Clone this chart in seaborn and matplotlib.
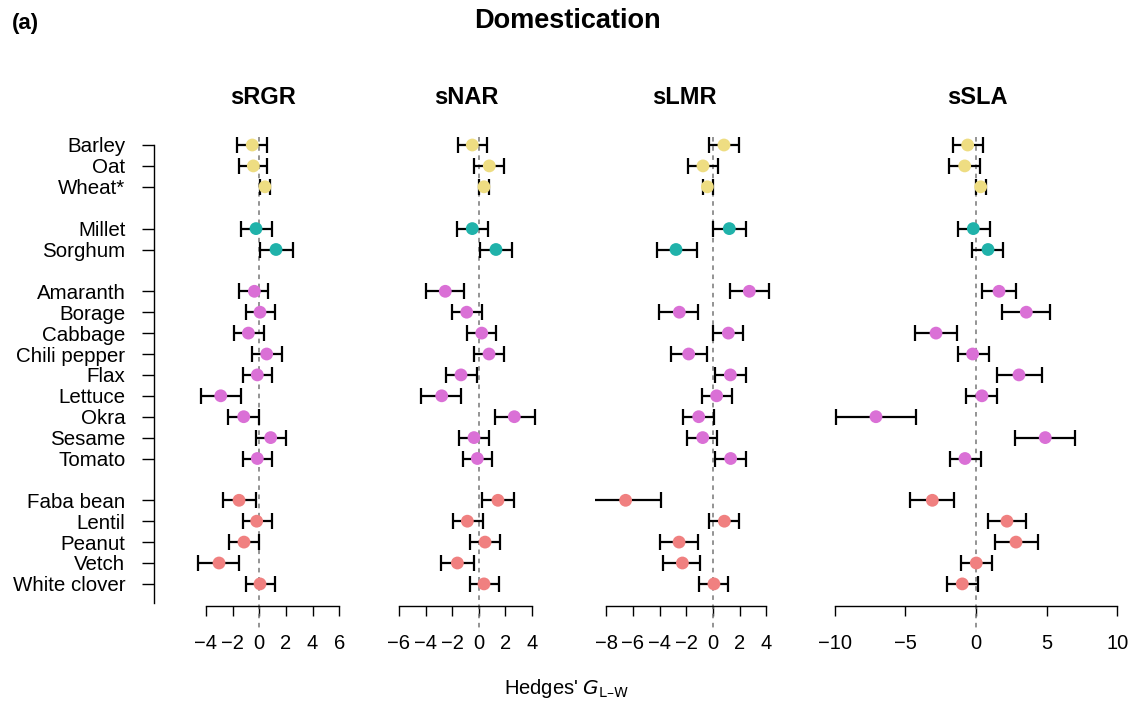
import numpy as np
import pandas as pd
import matplotlib
matplotlib.use('Agg')
import matplotlib.pyplot as plt
import seaborn as sns

# data
crops = ['Barley', 'Oat', 'Wheat*', 'Millet', 'Sorghum',
         'Amaranth', 'Borage', 'Cabbage', 'Chili pepper', 'Flax', 'Lettuce', 'Okra', 'Sesame', 'Tomato',
         'Faba bean', 'Lentil', 'Peanut', 'Vetch', 'White clover']
groups = ['C3 cereal', 'C3 cereal', 'C3 cereal', 'C4 cereal', 'C4 cereal',
          'Forb', 'Forb', 'Forb', 'Forb', 'Forb', 'Forb', 'Forb', 'Forb', 'Forb',
          'Legume', 'Legume', 'Legume', 'Legume', 'Legume']

traits = ['sRGR', 'sNAR', 'sLMR', 'sSLA']

srgr_est = [-0.52, -0.44, 0.43, -0.24, 1.26, -0.36, 0.06, -0.81, 0.56, -0.14, -2.88, -1.16, 0.86, -0.14, -1.51, -0.19, -1.14, -3.01, 0.06]
srgr_lo = [-1.64, -1.54, 0.08, -1.39, 0.06, -1.49, -1.01, -1.91, -0.52, -1.19, -4.38, -2.34, -0.24, -1.19, -2.69, -1.24, -2.26, -4.56, -1.01]
srgr_hi = [0.61, 0.61, 0.81, 0.93, 2.50, 0.68, 1.16, 0.33, 1.71, 0.98, -1.39, -0.04, 1.98, 0.98, -0.24, 0.93, -0.01, -1.49, 1.16]

snar_est = [-0.49, 0.79, 0.39, -0.49, 1.29, -2.52, -0.91, 0.22, 0.77, -1.34, -2.79, 2.67, -0.36, -0.11, 1.44, -0.86, 0.47, -1.61, 0.39]
snar_lo = [-1.56, -0.34, 0.02, -1.64, 0.11, -3.97, -2.02, -0.91, -0.34, -2.47, -4.32, 1.24, -1.49, -1.19, 0.26, -1.94, -0.64, -2.82, -0.66]
snar_hi = [0.64, 1.89, 0.79, 0.71, 2.52, -1.11, 0.24, 1.29, 1.89, -0.11, -1.32, 4.20, 0.74, 1.02, 2.65, 0.29, 1.59, -0.36, 1.50]

slmr_est = [0.82, -0.75, -0.42, 1.22, -2.77, 2.72, -2.52, 1.15, -1.82, 1.30, 0.27, -1.07, -0.77, 1.32, -6.54, 0.85, -2.54, -2.29, 0.07]
slmr_lo = [-0.27, -1.85, -0.75, 0.02, -4.21, 1.27, -4.02, 0.02, -3.12, 0.12, -0.82, -2.22, -1.92, 0.12, -9.26, -0.27, -3.97, -3.72, -1.02]
slmr_hi = [1.97, 0.40, -0.02, 2.45, -1.22, 4.21, -1.10, 2.27, -0.47, 2.50, 1.40, 0.07, 0.32, 2.47, -3.92, 1.97, -1.12, -0.97, 1.12]

ssla_est = [-0.59, -0.80, 0.33, -0.19, 0.85, 1.63, 3.56, -2.83, -0.24, 3.04, 0.42, -7.08, 4.90, -0.78, -3.09, 2.19, 2.83, 0.02, -0.97]
ssla_lo = [-1.65, -1.89, 0.00, -1.30, -0.26, 0.40, 1.84, -4.29, -1.30, 1.51, -0.68, -9.91, 2.78, -1.86, -4.67, 0.83, 1.32, -1.04, -2.05]
ssla_hi = [0.50, 0.28, 0.71, 0.99, 1.93, 2.85, 5.21, -1.37, 0.90, 4.65, 1.49, -4.25, 7.03, 0.33, -1.53, 3.54, 4.37, 1.11, 0.16]

# x ticks per panel
ticks_srgr = [-4, -2, 0, 2, 4, 6]
ticks_snar = [-6, -4, -2, 0, 2, 4]
ticks_slmr = [-8, -6, -4, -2, 0, 2, 4]
ticks_ssla = [-10, -5, 0, 5, 10]

palette = {'C3 cereal': '#EEDD82', 'C4 cereal': '#20B2AA',
           'Forb': '#DA70D6', 'Legume': '#F08080'}

sns.set_style('white')
plt.rcParams['font.family'] = ['Liberation Sans', 'DejaVu Sans']
plt.rcParams['axes.unicode_minus'] = True
plt.rcParams['text.color'] = 'black'
plt.rcParams['xtick.color'] = 'black'
plt.rcParams['ytick.color'] = 'black'

# row positions: blank row between groups
row_pos = []
pos = 0
prev = None
for g in groups:
    pos += 1 if (prev is None or g == prev) else 2
    row_pos.append(pos)
    prev = g

frames = []
for t, est, lo, hi in [('sRGR', srgr_est, srgr_lo, srgr_hi),
                       ('sNAR', snar_est, snar_lo, snar_hi),
                       ('sLMR', slmr_est, slmr_lo, slmr_hi),
                       ('sSLA', ssla_est, ssla_lo, ssla_hi)]:
    frames.append(pd.DataFrame({'trait': t, 'crop': crops, 'group': groups,
                                'row': row_pos, 'est': est, 'lo': lo, 'hi': hi}))
df = pd.concat(frames, ignore_index=True)

W, H = 1135, 704
fig = plt.figure(figsize=(W / 100, H / 100), dpi=100)

# panel layout in pixels: left, right, pixel of zero, pixels per unit
top_px, bot_px = 125, 606
y_top = 1 + (top_px - 145) / 20.9
y_bot = 1 + (bot_px - 145) / 20.9
panels = {
    'sRGR': (154, 350, 259.2, 13.35, ticks_srgr),
    'sNAR': (390, 545, 478.8, 13.3, ticks_snar),
    'sLMR': (595, 775, 713.0, 13.36, ticks_slmr),
    'sSLA': (825, 1125, 976.0, 14.13, ticks_ssla),
}
title_x = {'sRGR': 263, 'sNAR': 466, 'sLMR': 684, 'sSLA': 977}

for i, t in enumerate(traits):
    left, right, zero_px, ppu, ticks = panels[t]
    ax = fig.add_axes([left / W, 1 - bot_px / H, (right - left) / W, (bot_px - top_px) / H])
    sub = df[df['trait'] == t]

    ax.vlines(0, 0.6, 24.2, colors='#777777', linestyles=(0, (3, 3)), lw=1.1,
              clip_on=False, zorder=1)
    ax.errorbar(sub['est'], sub['row'],
                xerr=[sub['est'] - sub['lo'], sub['hi'] - sub['est']],
                fmt='none', ecolor='black', elinewidth=1.6, capsize=5.8,
                capthick=1.6, zorder=2)
    sns.scatterplot(data=sub, x='est', y='row', hue='group', palette=palette,
                    s=85, edgecolor='none', legend=False, ax=ax, zorder=3)

    ax.set_xlim((left - zero_px) / ppu, (right - zero_px) / ppu)
    ax.set_ylim(y_bot, y_top)
    ax.set_xticks(ticks)
    ax.set_xticklabels([str(v).replace('-', '\u2212') for v in ticks], fontsize=14.5)
    ax.tick_params(axis='x', direction='out', length=7.5, width=1.0, pad=13,
                   colors='black', bottom=True)
    ax.set_xlabel('')
    ax.set_ylabel('')
    for s in ['top', 'right']:
        ax.spines[s].set_visible(False)
    ax.spines['bottom'].set_bounds(ticks[0], ticks[-1])
    ax.spines['bottom'].set_color('black')
    ax.spines['bottom'].set_linewidth(1.0)
    if i == 0:
        ax.set_yticks(row_pos)
        ax.set_yticklabels(crops, fontsize=14.8)
        ax.tick_params(axis='y', direction='out', length=8.5, width=1.0, pad=12,
                       left=True, colors='black')
        ax.spines['left'].set_bounds(1, 22.9)
        ax.spines['left'].set_color('black')
        ax.spines['left'].set_linewidth(1.0)
    else:
        ax.set_yticks([])
        ax.spines['left'].set_visible(False)
    ax.patch.set_alpha(0)

    fig.text(title_x[t] / W, 1 - 97 / H, t, ha='center', va='center',
             fontsize=17, fontweight='bold')

fig.text(0.5, 1 - 21 / H, 'Domestication', ha='center', va='center',
         fontsize=19.5, fontweight='bold')
fig.text(12 / W, 1 - 23 / H, '(a)', ha='left', va='center',
         fontsize=16, fontweight='bold')
fig.text(566 / W, 1 - 688 / H, "Hedges' $G_{\\mathrm{L\u2013W}}$", ha='center',
         va='center', fontsize=14.5)

fig.savefig('out.png', dpi=100)
